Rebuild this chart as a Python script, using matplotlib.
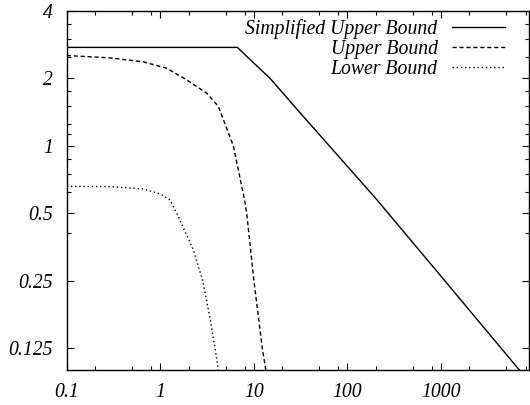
import numpy as np
import matplotlib
matplotlib.use("Agg")
import matplotlib.pyplot as plt
from matplotlib.ticker import FixedLocator, NullFormatter

# bound curves (x on log10 axis, y on log2 axis)
simp_x = [0.1, 6.65, 10.0, 14.9, 30.0, 100.0, 204.0, 1000.0, 6870.0]
simp_y = [2.75, 2.75, 2.34, 2.0, 1.43, 0.81, 0.578, 0.262, 0.1]

upper_x = [0.1, 0.29, 0.66, 1.17, 1.84, 3.13, 4.17, 6.03, 7.94, 8.38, 10.0, 12.3, 13.4]
upper_y = [2.53, 2.47, 2.37, 2.22, 1.99, 1.72, 1.50, 1.0, 0.574, 0.5, 0.25, 0.125, 0.1]

lower_x = [0.1, 0.3, 0.66, 1.0, 1.27, 1.5, 2.25, 2.84, 3.4, 3.84, 4.17]
lower_y = [0.66, 0.658, 0.642, 0.61, 0.574, 0.5, 0.344, 0.25, 0.17, 0.125, 0.1]

labels = ["Simplified Upper Bound", "Upper Bound", "Lower Bound"]

xticks = [0.1, 1, 10, 100, 1000]
xtick_labels = ["0.1", "1", "10", "100", "1000"]
yticks = [0.125, 0.25, 0.5, 1, 2, 4]
ytick_labels = ["0.125", "0.25", "0.5", "1", "2", "4"]

plt.rcParams['font.family'] = ['Liberation Serif', 'DejaVu Serif']
plt.rcParams['font.style'] = 'italic'
fs = 14.2

fig = plt.figure(figsize=(5.3, 4.05), dpi=100)
ax = fig.add_axes([0.126, 0.0864, 0.872, 0.8866])

ax.plot(simp_x, simp_y, color='black', lw=1.0, label=labels[0])
ax.plot(upper_x, upper_y, color='black', lw=1.0, linestyle=(0, (3, 2)), label=labels[1])
ax.plot(lower_x, lower_y, color='black', lw=1.0, linestyle=(0, (1, 2)), label=labels[2])

ax.set_xscale('log')
ax.set_yscale('log', base=2)
ax.set_xlim(0.1, 8700)
ax.set_ylim(0.1, 4)

ax.set_xticks(xticks)
ax.set_xticklabels(xtick_labels)
ax.set_yticks(yticks)
ax.set_yticklabels(ytick_labels)

xminor = [m * d for d in [0.1, 1, 10, 100, 1000] for m in (2, 5, 8)]
ax.xaxis.set_minor_locator(FixedLocator(xminor))
ax.xaxis.set_minor_formatter(NullFormatter())
yminor = [0.41, 0.625, 0.75, 0.875, 1.125, 1.25, 1.5, 1.75, 2.5, 3, 3.5]
ax.yaxis.set_minor_locator(FixedLocator(yminor))
ax.yaxis.set_minor_formatter(NullFormatter())

ax.tick_params(which='both', direction='in', top=True, right=True, width=0.8)
ax.tick_params(which='major', length=5, labelsize=fs)
ax.tick_params(which='minor', length=3)
ax.tick_params(axis='x', which='major', pad=9)
ax.tick_params(axis='y', which='major', pad=10)

for s in ax.spines.values():
    s.set_linewidth(1.0)

# gnuplot-style key: right-aligned labels, samples on the right
leg = ax.legend(loc='upper right', bbox_to_anchor=(0.962, 0.995), frameon=False,
                markerfirst=False, fontsize=fs, handlelength=2.69,
                handletextpad=0.75, labelspacing=0.05, borderaxespad=0.0,
                borderpad=0.3)

fig.savefig("out.png", dpi=100)
